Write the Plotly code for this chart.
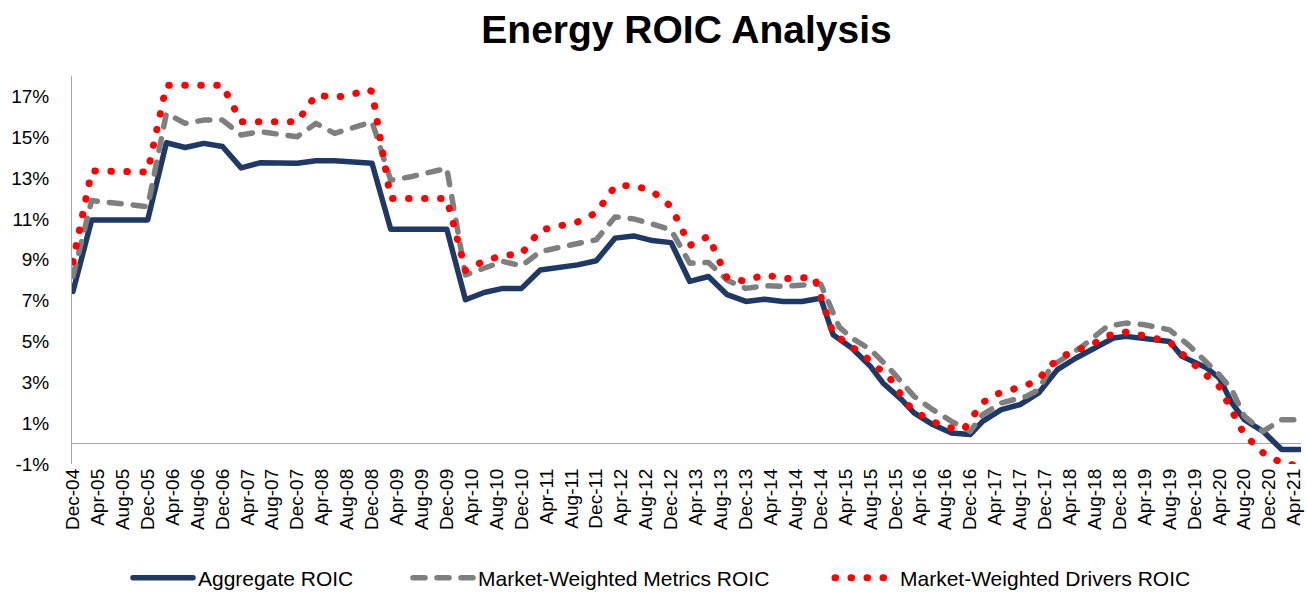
import plotly.graph_objects as go

# x positions are months elapsed since Dec-2004
agg_months = [0, 3, 12, 15, 18, 21, 24, 27, 30, 36, 39, 42, 48, 51, 60, 63, 66, 69, 72, 75, 81, 84,
              87, 90, 93, 96, 99, 102, 105, 108, 111, 114, 117, 120, 122, 125, 128, 130, 133, 135,
              138, 141, 144, 146, 149, 152, 155, 158, 161, 164, 167, 169, 172, 176, 178, 182, 184,
              186, 188, 191, 194, 197]
agg_roic = [7.45, 10.95, 10.95, 14.73, 14.5, 14.7, 14.55, 13.5, 13.75, 13.73, 13.85, 13.85, 13.73,
            10.5, 10.5, 7.04, 7.4, 7.6, 7.6, 8.5, 8.75, 8.95, 10.06, 10.17, 9.94, 9.84, 7.94, 8.18,
            7.29, 6.96, 7.07, 6.96, 6.96, 7.12, 5.33, 4.68, 3.78, 2.97, 2.15, 1.5, 0.93, 0.52, 0.44,
            1.09, 1.66, 1.91, 2.48, 3.62, 4.19, 4.68, 5.17, 5.25, 5.17, 5.0, 4.27, 3.7, 3.21, 1.99,
            1.17, 0.6, -0.29, -0.29]

metrics_months = [0, 3, 12, 15, 18, 21, 24, 27, 30, 36, 39, 42, 48, 51, 54, 60, 63, 66, 69, 72, 75,
                  81, 84, 87, 90, 93, 96, 99, 102, 105, 108, 111, 114, 120, 123, 125, 128, 131, 133,
                  135, 138, 141, 144, 146, 149, 153, 155, 157, 162, 164, 166, 169, 172, 176, 179,
                  184, 186, 188, 191, 194, 197]
metrics_roic = [8.18, 11.9, 11.6, 16.17, 15.68, 15.84, 15.84, 15.11, 15.27, 15.03, 15.68, 15.19,
                15.76, 12.9, 13.05, 13.48, 8.26, 8.59, 8.92, 8.7, 9.4, 9.8, 9.98, 11.1, 11.0, 10.75,
                10.46, 8.83, 8.87, 8.0, 7.6, 7.73, 7.7, 7.82, 5.7, 5.17, 4.6, 3.7, 3.05, 2.31, 1.66,
                1.09, 0.6, 1.42, 1.99, 2.31, 2.64, 3.78, 4.76, 5.25, 5.74, 5.9, 5.82, 5.57, 4.84,
                3.37, 2.64, 1.34, 0.6, 1.17, 1.17]

drivers_months = [0, 3, 12, 15, 24, 27, 36, 39, 42, 45, 47, 48, 51, 60, 63, 66, 69, 72, 75, 78, 81,
                  84, 87, 90, 93, 96, 99, 102, 105, 108, 111, 114, 117, 119, 122, 125, 127, 129,
                  131, 134, 136, 138, 140, 143, 146, 148, 151, 153, 155, 157, 159, 162, 164, 166,
                  169, 172, 176, 178, 180, 182, 184, 188, 191, 194, 197]
drivers_roic = [8.9, 13.35, 13.3, 17.55, 17.55, 15.76, 15.76, 17.07, 16.95, 17.1, 17.35, 17.25,
                12.0, 12.0, 8.48, 8.95, 9.2, 9.3, 10.45, 10.65, 10.85, 11.3, 12.6, 12.65, 12.35,
                11.6, 9.7, 10.15, 8.1, 7.95, 8.28, 8.07, 8.15, 8.15, 5.4, 4.75, 4.3, 3.75, 3.26,
                1.9, 1.42, 1.09, 0.8, 0.7, 2.0, 2.4, 2.65, 2.85, 3.15, 3.85, 4.3, 4.65, 4.92, 5.28,
                5.46, 5.28, 4.98, 4.4, 3.85, 3.25, 2.78, 0.45, -0.45, -0.95, -1.1]

tick_labels = ["Dec-04", "Apr-05", "Aug-05", "Dec-05", "Apr-06", "Aug-06", "Dec-06", "Apr-07",
               "Aug-07", "Dec-07", "Apr-08", "Aug-08", "Dec-08", "Apr-09", "Aug-09", "Dec-09",
               "Apr-10", "Aug-10", "Dec-10", "Apr-11", "Aug-11", "Dec-11", "Apr-12", "Aug-12",
               "Dec-12", "Apr-13", "Aug-13", "Dec-13", "Apr-14", "Aug-14", "Dec-14", "Apr-15",
               "Aug-15", "Dec-15", "Apr-16", "Aug-16", "Dec-16", "Apr-17", "Aug-17", "Dec-17",
               "Apr-18", "Aug-18", "Dec-18", "Apr-19", "Aug-19", "Dec-19", "Apr-20", "Aug-20",
               "Dec-20", "Apr-21"]
tick_positions = [4 * i for i in range(len(tick_labels))]

y_tick_values = [-1, 1, 3, 5, 7, 9, 11, 13, 15, 17]

FONT = "Liberation Sans, Arial, sans-serif"
LEG_FONT = dict(size=21, family=FONT, color="#000000")
LEG_Y = -0.294

fig = go.Figure()
fig.add_trace(go.Scatter(x=agg_months, y=agg_roic, mode="lines", name="Aggregate ROIC",
                         legend="legend",
                         line=dict(color="#1F3864", width=5.5)))
fig.add_trace(go.Scatter(x=metrics_months, y=metrics_roic, mode="lines",
                         name="Market-Weighted Metrics ROIC", legend="legend2",
                         line=dict(color="#7F7F7F", width=5.5, dash="12px,12px")))
fig.add_trace(go.Scatter(x=drivers_months, y=drivers_roic, mode="lines",
                         name="Market-Weighted Drivers ROIC", legend="legend3",
                         line=dict(color="#FF0000", width=7, dash="0.5px,15.5px")))

def leg(xpx):
    return dict(orientation="h", x=(xpx - 72) / 1229, xanchor="left", xref="paper",
                y=LEG_Y, yanchor="middle", font=LEG_FONT, itemwidth=60,
                bgcolor="rgba(0,0,0,0)", borderwidth=0)

fig.update_layout(
    width=1307, height=592,
    margin=dict(l=72, r=6, t=76, b=128, autoexpand=False),
    paper_bgcolor="white", plot_bgcolor="white",
    font=dict(family=FONT, color="#000000"),
    title=dict(text="<b>Energy ROIC Analysis</b>", x=0.5, xref="paper", xanchor="center",
               y=0.95, yref="container", yanchor="middle",
               font=dict(size=39, family=FONT, color="#000000")),
    showlegend=True,
    legend=leg(128),
    legend2=leg(408),
    legend3=leg(830),
    xaxis=dict(range=[-0.15, 197.1], tickmode="array", tickvals=tick_positions,
               ticktext=tick_labels, tickangle=-90, ticks="", showgrid=False,
               showline=False, zeroline=False, automargin=False, ticklabeloverflow="allow",
               tickfont=dict(size=19, family=FONT, color="#000000")),
    yaxis=dict(range=[-1, 18], tickmode="array", tickvals=y_tick_values,
               ticktext=[f"{v}%" for v in y_tick_values], ticks="", showgrid=False,
               showline=True, linecolor="#A6A6A6", linewidth=1,
               zeroline=True, zerolinecolor="#A6A6A6", zerolinewidth=1,
               ticklabelstandoff=18, automargin=False,
               tickfont=dict(size=19, family=FONT, color="#000000")),
)

post = """
document.documentElement.style.margin = '0';
document.documentElement.style.padding = '0';
document.body.style.margin = '0';
document.body.style.padding = '0';
document.body.style.overflow = 'hidden';
function roundCaps(){
  document.querySelectorAll('.scatterlayer .js-line, .legendlines path').forEach(function(p){
    p.style.strokeLinecap = 'round';
    p.style.strokeLinejoin = 'round';
  });
}
roundCaps();
setTimeout(roundCaps, 50);
"""
fig.write_html("out.html", post_script=post, config={"displayModeBar": False})
